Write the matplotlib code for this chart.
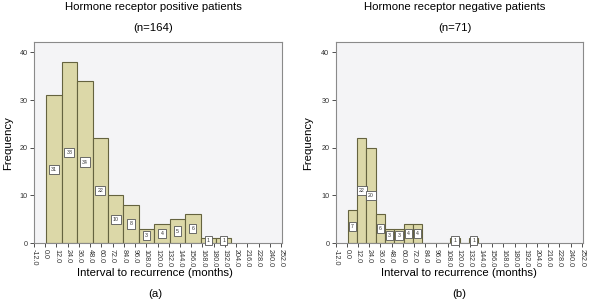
import numpy as np
from matplotlib import pyplot as plt

plt.rcParams['font.family'] = ['Liberation Sans', 'DejaVu Sans']

# histogram counts
counts_pos = [31, 38, 34, 22, 10, 8, 3, 4, 5, 6, 1, 1]
counts_neg = [7, 22, 20, 6, 3, 3, 4, 4, 0, 0, 0, 1, 0, 1]
start_pos, width_pos = 1.0, 16.5
start_neg, width_neg = 1.0, 10.0

xticks = np.arange(-12, 253, 12)
yticks = [0, 10, 20, 30, 40]

titles = ['Hormone receptor positive patients', 'Hormone receptor negative patients']
subtitles = ['(n=164)', '(n=71)']
panel = ['(a)', '(b)']

bar_face = '#dcd8a8'
bar_edge = '#65633f'


def hist_panel(ax, counts, start, width):
    lefts = start + width * np.arange(len(counts))
    ax.bar(lefts, counts, width=width, align='edge', color=bar_face,
           edgecolor=bar_edge, linewidth=0.8, zorder=2)
    for x, h in zip(lefts, counts):
        if h == 0:
            continue
        ax.text(x + width / 2, max(h / 2, 0.5), str(h), fontsize=3.8,
                ha='center', va='center', zorder=3, color='#333333',
                bbox=dict(boxstyle='square,pad=0.4', fc='white', ec='#555555', lw=0.6))
    ax.set_facecolor('#f4f4f6')
    ax.set_xlim(-12, 253)
    ax.set_ylim(0, 42.2)
    ax.set_xticks(xticks)
    ax.set_xticklabels(['%.1f' % t for t in xticks], rotation=270, fontsize=5.2)
    ax.set_yticks(yticks)
    ax.set_yticklabels([str(t) for t in yticks], fontsize=5.2)
    ax.tick_params(length=3, width=0.6, pad=1.5, color='#333333', labelcolor='#333333')
    for s in ax.spines.values():
        s.set_color('#8a8a8a')
        s.set_linewidth(0.8)


fig = plt.figure(figsize=(6, 3.08), dpi=100)
ax1 = fig.add_axes([0.0567, 0.211, 0.4133, 0.6526])
ax2 = fig.add_axes([0.5595, 0.211, 0.4117, 0.6526])
hist_panel(ax1, counts_pos, start_pos, width_pos)
hist_panel(ax2, counts_neg, start_neg, width_neg)

for i, cx in enumerate([153 / 600, 455 / 600]):
    fig.text(cx, 0.976, titles[i], ha='center', va='center', fontsize=8.2)
    fig.text(cx, 0.908, subtitles[i], ha='center', va='center', fontsize=8.2)
for i, cx in enumerate([155 / 600, 459 / 600]):
    fig.text(cx, 0.1126, 'Interval to recurrence (months)', ha='center', va='center', fontsize=8.2)
    fig.text(cx, 0.0455, panel[i], ha='center', va='center', fontsize=8.2)
for fx in [8.5 / 600, 308.5 / 600]:
    fig.text(fx, 0.537, 'Frequency', rotation=90, ha='center', va='center', fontsize=8.2)

fig.savefig('out.png', dpi=100)
